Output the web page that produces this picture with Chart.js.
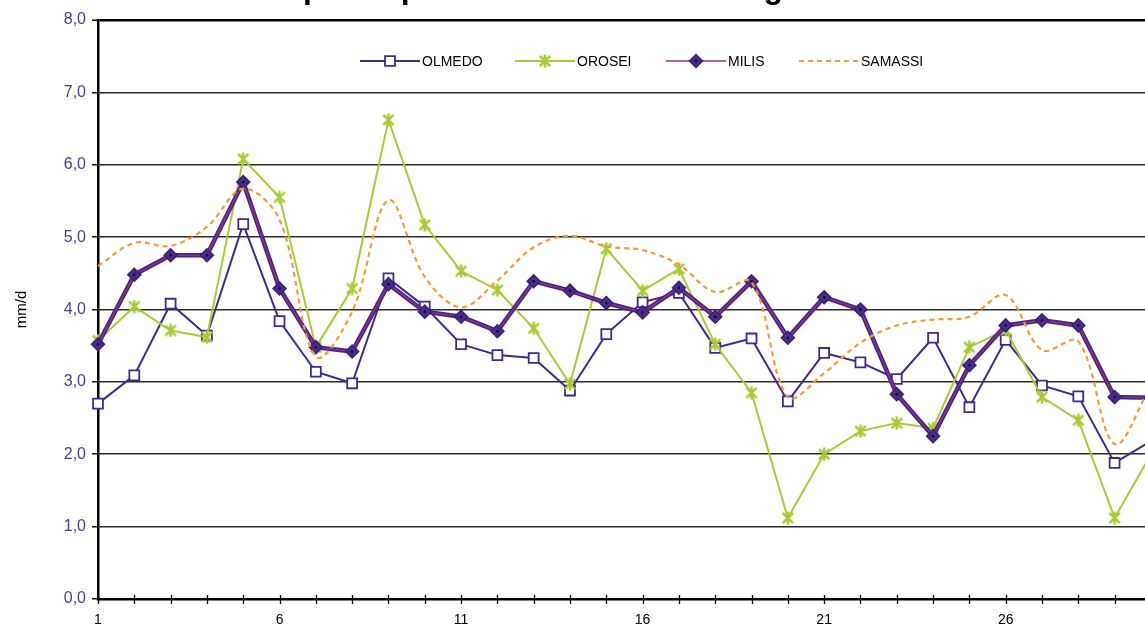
<!DOCTYPE html>
<html>
<head>
<meta charset="utf-8">
<script src="https://cdn.jsdelivr.net/npm/chart.js@4.4.1/dist/chart.umd.min.js"></script>
<style>
  html, body { margin: 0; padding: 0; background: #ffffff; overflow: hidden; }
  #wrap { width: 1145px; height: 626px; overflow: hidden; position: relative; }
  canvas { display: block; }
</style>
</head>
<body>
<div id="wrap"><canvas id="c" width="1200" height="626"></canvas></div>
<script>
// Daily reference evapotranspiration (mm/d) at four stations
const days = ['1','2','3','4','5','6','7','8','9','10','11','12','13','14','15','16',
              '17','18','19','20','21','22','23','24','25','26','27','28','29','30','31'];

const olmedo  = [2.70,3.09,4.08,3.64,5.18,3.84,3.14,2.98,4.43,4.04,3.52,3.37,3.33,2.88,3.66,4.10,
                 4.23,3.47,3.60,2.73,3.40,3.27,3.04,3.61,2.65,3.58,2.95,2.80,1.88,2.18,null];
const orosei  = [3.57,4.04,3.71,3.62,6.08,5.55,3.48,4.29,6.62,5.17,4.53,4.27,3.74,2.97,4.84,4.26,
                 4.56,3.52,2.85,1.12,2.00,2.32,2.43,2.36,3.48,3.72,2.79,2.47,1.12,2.00,null];
const milis   = [3.52,4.48,4.75,4.75,5.76,4.29,3.48,3.42,4.35,3.97,3.90,3.70,4.39,4.26,4.09,3.96,
                 4.30,3.90,4.39,3.61,4.17,4.00,2.83,2.25,3.23,3.78,3.85,3.78,2.79,2.78,null];
const samassi = [4.60,4.92,4.88,5.14,5.67,5.24,3.35,3.97,5.51,4.45,4.03,4.40,4.86,5.02,4.87,4.82,
                 4.62,4.24,4.38,2.79,3.12,3.54,3.78,3.86,3.90,4.20,3.44,3.56,2.14,2.95,null];

const yTicks = [0,1,2,3,4,5,6,7,8];
const labelEvery = 5;
const titleText = 'Evapotraspirazione di riferimento giornaliera';
const unitText = 'mm/d';

const C_OLMEDO = '#3f2a8c';
const C_OROSEI = '#a8cb35';
const C_MILIS_LINE = '#8a2f8e';
const C_MILIS_DARK = '#42257f';
const C_SAMASSI = '#f29a3a';
const C_YLABEL = '#4a3a94';
const FONT = '"Liberation Sans", Arial, Helvetica, sans-serif';

// asterisk marker (X with a vertical stroke)
function makeStar(size, color, lw) {
  const cv = document.createElement('canvas');
  cv.width = size; cv.height = size;
  const g = cv.getContext('2d');
  g.strokeStyle = color; g.lineWidth = lw; g.lineCap = 'butt';
  const m = lw / 2 + 0.5, s = size - m;
  g.beginPath();
  g.moveTo(m, m); g.lineTo(s, s);
  g.moveTo(s, m); g.lineTo(m, s);
  g.moveTo(size / 2, 0.5); g.lineTo(size / 2, size - 0.5);
  g.stroke();
  return cv;
}
const starMarker = makeStar(14, C_OROSEI, 2.6);

const extras = {
  id: 'extras',
  afterDatasetsDraw(chart) {
    // small black dot at the centre of each diamond
    const ctx = chart.ctx;
    const meta = chart.getDatasetMeta(3);
    ctx.save();
    ctx.fillStyle = '#000';
    meta.data.forEach(p => {
      if (p.skip) return;
      ctx.beginPath(); ctx.arc(p.x, p.y, 1.2, 0, Math.PI * 2); ctx.fill();
    });
    ctx.restore();
  },
  afterDraw(chart) {
    const ctx = chart.ctx;
    const area = chart.chartArea;
    const xs = chart.scales.x;
    ctx.save();
    // tick marks crossing the category axis
    ctx.strokeStyle = '#000'; ctx.lineWidth = 1.3;
    for (let i = 0; i < days.length; i++) {
      const px = Math.round(xs.getPixelForValue(i)) + 0.5;
      ctx.beginPath(); ctx.moveTo(px, area.bottom - 4); ctx.lineTo(px, area.bottom + 5); ctx.stroke();
    }
    // title
    ctx.fillStyle = '#000';
    ctx.font = 'bold 32px ' + FONT;
    ctx.textBaseline = 'alphabetic'; ctx.textAlign = 'left';
    ctx.fillText(titleText, 246, -2);

    // legend
    const items = [
      { ds: 0, x: 360 },
      { ds: 1, x: 515 },
      { ds: 3, x: 666 },
      { ds: 4, x: 799 }
    ];
    const ly = 61, len = 60;
    ctx.font = '14px ' + FONT;
    ctx.textBaseline = 'middle';
    items.forEach(it => {
      const ds = chart.data.datasets[it.ds];
      ctx.strokeStyle = ds.borderColor;
      ctx.lineWidth = ds.borderWidth > 2.2 ? 2 : ds.borderWidth;
      ctx.setLineDash(ds.borderDash || []);
      ctx.beginPath(); ctx.moveTo(it.x, ly); ctx.lineTo(it.x + len, ly); ctx.stroke();
      ctx.setLineDash([]);
      if (ds.pointRadius > 0) {
        ctx.fillStyle = ds.pointBackgroundColor;
        ctx.strokeStyle = ds.pointBorderColor;
        ctx.lineWidth = ds.pointBorderWidth;
        Chart.helpers.drawPoint(ctx, {
          pointStyle: ds.pointStyle, radius: ds.pointRadius,
          rotation: 0, borderWidth: ds.pointBorderWidth
        }, it.x + len / 2, ly);
        if (it.ds === 3) {
          ctx.fillStyle = '#000';
          ctx.beginPath(); ctx.arc(it.x + len / 2, ly, 1.2, 0, Math.PI * 2); ctx.fill();
        }
      }
      ctx.fillStyle = '#000';
      ctx.fillText(ds.label, it.x + len + 2, ly + 1);
    });
    ctx.restore();
  }
};

new Chart(document.getElementById('c'), {
  type: 'line',
  data: {
    labels: days,
    datasets: [
      {
        label: 'OLMEDO', data: olmedo, order: 5,
        borderColor: C_OLMEDO, borderWidth: 2,
        pointStyle: 'rect', pointRadius: 7, pointHoverRadius: 7,
        pointBackgroundColor: '#ffffff', pointBorderColor: C_OLMEDO, pointBorderWidth: 1.8,
        tension: 0
      },
      {
        label: 'OROSEI', data: orosei, order: 4,
        borderColor: C_OROSEI, borderWidth: 2,
        pointStyle: starMarker, pointRadius: 7,
        pointBackgroundColor: C_OROSEI, pointBorderColor: C_OROSEI, pointBorderWidth: 2,
        tension: 0
      },
      {
        label: '', data: milis, order: 3,
        borderColor: C_MILIS_DARK, borderWidth: 4.5,
        pointRadius: 0, tension: 0
      },
      {
        label: 'MILIS', data: milis, order: 2,
        borderColor: C_MILIS_LINE, borderWidth: 1.6,
        pointStyle: 'rectRot', pointRadius: 6.5, pointHoverRadius: 6.5,
        pointBackgroundColor: '#4a2a8a', pointBorderColor: '#3a1f78', pointBorderWidth: 1.5,
        tension: 0
      },
      {
        label: 'SAMASSI', data: samassi, order: 1,
        borderColor: C_SAMASSI, borderWidth: 2.2, borderDash: [5, 4],
        pointRadius: 0, tension: 0.35
      }
    ]
  },
  options: {
    responsive: false,
    animation: false,
    events: [],
    layout: { padding: { left: 0, right: 10, top: 20, bottom: 0 } },
    plugins: { legend: { display: false }, title: { display: false }, tooltip: { enabled: false } },
    scales: {
      x: {
        type: 'category',
        offset: false,
        afterFit(s) { s.height = 27; },
        grid: { display: false },
        border: { display: true, color: '#000', width: 2.5 },
        ticks: {
          autoSkip: false, maxRotation: 0, padding: 5,
          color: '#000', font: { family: FONT, size: 14 },
          callback(v, i) { return i % labelEvery === 0 ? days[i] : ''; }
        }
      },
      y: {
        min: 0, max: 8,
        afterFit(s) { s.width = 98; },
        afterBuildTicks(s) { s.ticks = yTicks.map(v => ({ value: v })); },
        grid: {
          color: ctx => ctx.tick && ctx.tick.value === 8 ? '#000' : '#2b2b2b',
          lineWidth: ctx => ctx.tick && ctx.tick.value === 8 ? 2.4 : 1.6,
          tickLength: 6, tickColor: '#000', tickWidth: 1.4
        },
        border: { display: true, color: '#000', width: 2.5 },
        ticks: {
          padding: 6, color: C_YLABEL, font: { family: FONT, size: 16 },
          callback(v) { return v.toFixed(1).replace('.', ','); }
        },
        title: {
          display: true, text: unitText, color: '#000',
          font: { family: FONT, size: 15 }, padding: { top: 13, bottom: 0 }
        }
      }
    }
  },
  plugins: [extras]
});
</script>
</body>
</html>
